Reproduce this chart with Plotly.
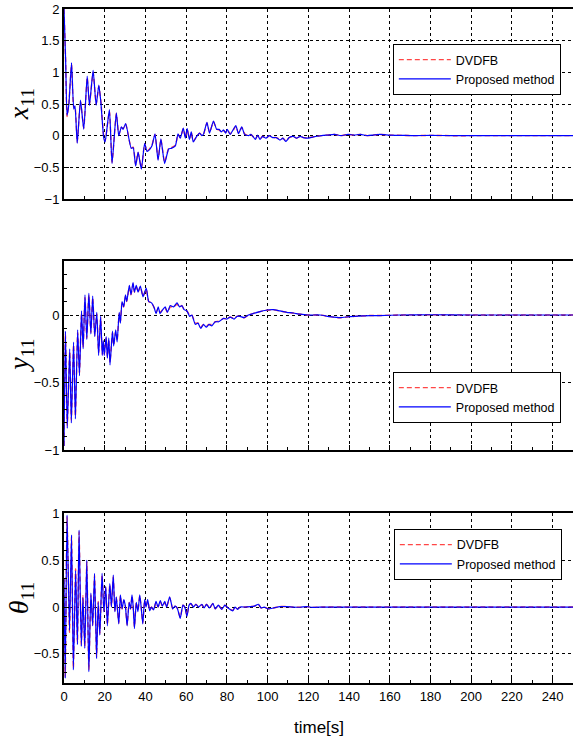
import plotly.graph_objects as go

# ---- x11 response -------------------------------------------------------
t_x = [
    0.0, 0.8, 1.5, 2.4, 3.7, 4.8, 5.4, 6.5, 8.1, 9.7,
    11.4, 12.5, 14.3, 15.8, 17.1, 18.1, 19.5, 20.2, 22.3, 23.6,
    25.7, 26.9, 28.2, 29.0, 30.3, 33.0, 34.0, 35.2, 36.4, 38.0,
    39.6, 40.8, 42.0, 43.2, 44.7, 46.2, 47.6, 49.4, 51.4, 52.7,
    54.7, 56.0, 57.1, 58.6, 59.6, 60.5, 61.6, 62.5, 63.5, 65.0,
    66.6, 67.7, 68.6, 70.2, 71.5, 73.4, 75.0, 76.2, 77.3, 78.4,
    79.4, 80.2, 81.6, 83.2, 84.4, 85.7, 87.3, 88.7, 90.6, 91.8,
    93.0, 94.0, 95.1, 96.3, 97.5, 99.2, 100.8, 102.5, 104.3, 106.1,
    107.5, 109.0, 110.6, 112.6, 114.2, 116.0, 117.5, 120.0, 122.5, 126.5,
    129.7, 133.0, 136.0, 139.5, 142.5, 145.6, 149.0, 152.0, 155.0, 160.0,
    166.0, 172.0, 180.0, 190.0, 200.0, 215.0, 230.0, 250.0,
]
x_proposed = [
    2.0, 1.2, 0.32, 0.5, 1.15, 0.42, 0.47, -0.12, 0.56, 0.1,
    0.94, 0.48, 1.03, 0.48, 0.8, 0.53, -0.03, -0.1, 0.41, -0.44,
    0.36, 0.0, 0.14, 0.1, 0.19, -0.2, -0.19, -0.48, -0.26, -0.53,
    -0.12, -0.25, -0.22, -0.16, 0.03, -0.39, -0.05, -0.44, -0.21, -0.2,
    -0.16, 0.03, -0.04, 0.12, -0.04, 0.11, -0.06, 0.06, -0.1, -0.02,
    0.04, 0.0, 0.03, 0.21, 0.04, 0.23, 0.1, 0.1, 0.06, 0.09,
    0.04, 0.1, 0.02, 0.1, 0.16, 0.03, 0.14, 0.02, 0.0, 0.02,
    -0.02, -0.06, 0.01, -0.06, -0.01, -0.04, 0.0, -0.03, -0.03, -0.07,
    -0.04, -0.09, -0.03, -0.01, -0.04, -0.01, -0.03, -0.04, -0.02, 0.0,
    0.01, 0.02, 0.0, 0.02, 0.01, 0.02, 0.0, 0.01, 0.02, 0.01,
    0.005, 0.0, 0.005, 0.0, 0.0, 0.0, 0.0, 0.0,
]
x_dvdfb = [
    2.0, 1.18, 0.3, 0.52, 1.12, 0.44, 0.46, -0.1, 0.54, 0.12,
    0.92, 0.5, 1.0, 0.5, 0.78, 0.55, -0.01, -0.08, 0.39, -0.42,
    0.35, 0.02, 0.13, 0.11, 0.18, -0.19, -0.18, -0.46, -0.27, -0.51,
    -0.13, -0.24, -0.21, -0.15, 0.02, -0.37, -0.06, -0.42, -0.2, -0.19,
    -0.15, 0.02, -0.03, 0.11, -0.03, 0.1, -0.05, 0.05, -0.09, -0.02,
    0.04, 0.01, 0.03, 0.2, 0.05, 0.22, 0.1, 0.09, 0.06, 0.08,
    0.05, 0.09, 0.03, 0.09, 0.15, 0.04, 0.13, 0.03, 0.0, 0.02,
    -0.02, -0.05, 0.0, -0.05, -0.01, -0.04, 0.0, -0.03, -0.03, -0.06,
    -0.04, -0.08, -0.03, -0.01, -0.04, -0.01, -0.03, -0.03, -0.02, 0.0,
    0.01, 0.02, 0.0, 0.02, 0.01, 0.02, 0.0, 0.01, 0.02, 0.01,
    0.005, 0.0, 0.005, 0.0, 0.0, 0.0, 0.0, 0.0,
]

# ---- y11 response -------------------------------------------------------
t_y = [
    0.0, 0.7, 1.6, 2.8, 3.6, 4.7, 5.6, 6.7, 7.6, 8.6,
    9.4, 10.3, 11.2, 12.2, 13.2, 14.1, 15.1, 16.1, 17.0, 18.0,
    18.8, 19.3, 19.8, 20.7, 21.3, 22.0, 22.6, 23.8, 24.4, 25.4,
    26.1, 27.1, 27.7, 28.5, 29.3, 30.2, 30.8, 32.1, 32.9, 33.9,
    34.6, 35.5, 36.4, 37.5, 38.8, 40.4, 41.6, 43.0, 44.4, 45.2,
    46.3, 47.2, 48.5, 49.7, 50.8, 52.2, 53.8, 55.5, 56.8, 57.9,
    59.0, 60.4, 61.7, 62.8, 64.5, 65.8, 67.2, 68.5, 69.9, 71.2,
    72.6, 74.3, 76.0, 78.4, 80.0, 81.6, 83.5, 85.0, 86.5, 88.5,
    90.6, 93.1, 96.3, 99.6, 102.8, 106.1, 109.4, 112.6, 115.9, 120.0,
    125.7, 130.6, 135.5, 140.4, 145.3, 150.2, 155.0, 165.0, 180.0, 200.0,
    220.0, 250.0,
]
y_proposed = [
    -0.97, -0.12, -0.84, -0.25, -0.8, -0.2, -0.77, -0.11, -0.45, 0.03,
    -0.25, 0.15, -0.18, 0.16, -0.14, 0.14, -0.16, 0.02, -0.3, -0.01,
    -0.3, -0.19, -0.3, -0.16, -0.32, -0.17, -0.37, -0.12, -0.23, -0.11,
    -0.2, 0.02, -0.06, 0.1, 0.06, 0.15, 0.1, 0.22, 0.15, 0.24,
    0.17, 0.22, 0.17, 0.215, 0.135, 0.2, 0.1, 0.09, 0.05, 0.01,
    0.06, 0.01, 0.04, 0.06, 0.02, 0.07, 0.06, 0.09, 0.06, 0.07,
    0.04, 0.03, -0.01, 0.0, -0.07, -0.06, -0.1, -0.07, -0.09, -0.07,
    -0.08, -0.05, -0.05, -0.025, -0.03, -0.015, -0.03, -0.01, -0.01, -0.02,
    0.0, 0.012, 0.025, 0.037, 0.04, 0.03, 0.02, 0.015, 0.006, 0.0,
    0.0, -0.012, -0.02, -0.012, -0.008, -0.004, -0.004, 0.0, 0.002, 0.0,
    0.0, 0.0,
]
y_dvdfb = [
    -0.97, -0.14, -0.82, -0.27, -0.78, -0.22, -0.75, -0.13, -0.43, 0.01,
    -0.24, 0.13, -0.17, 0.15, -0.13, 0.13, -0.15, 0.01, -0.28, -0.02,
    -0.29, -0.2, -0.29, -0.17, -0.31, -0.18, -0.35, -0.13, -0.22, -0.12,
    -0.19, 0.01, -0.05, 0.09, 0.06, 0.14, 0.1, 0.21, 0.15, 0.23,
    0.17, 0.21, 0.17, 0.21, 0.14, 0.19, 0.1, 0.09, 0.05, 0.02,
    0.05, 0.02, 0.04, 0.05, 0.02, 0.06, 0.06, 0.08, 0.06, 0.07,
    0.04, 0.03, 0.0, 0.0, -0.06, -0.06, -0.09, -0.07, -0.08, -0.07,
    -0.07, -0.05, -0.045, -0.025, -0.03, -0.015, -0.025, -0.01, -0.01, -0.02,
    0.0, 0.012, 0.025, 0.035, 0.038, 0.03, 0.02, 0.015, 0.006, 0.0,
    0.0, -0.012, -0.02, -0.012, -0.008, -0.004, -0.004, 0.0, 0.002, 0.0,
    0.0, 0.0,
]

# ---- theta11 response ---------------------------------------------------
t_th = [
    0.0, 0.6, 1.5, 2.7, 3.7, 4.6, 5.7, 6.6, 7.4, 8.5,
    9.3, 10.2, 11.2, 12.2, 13.2, 14.1, 15.0, 16.0, 16.8, 17.6,
    18.7, 19.6, 20.5, 21.3, 22.5, 23.3, 24.2, 25.0, 25.7, 26.9,
    27.7, 28.5, 29.4, 30.2, 31.0, 32.0, 32.7, 33.4, 34.0, 34.6,
    35.5, 36.3, 37.2, 37.9, 38.7, 39.6, 40.3, 41.1, 42.1, 43.0,
    44.0, 45.2, 46.2, 47.3, 48.3, 49.5, 50.4, 51.9, 53.4, 54.5,
    55.6, 57.1, 58.4, 59.3, 60.4, 61.4, 62.3, 63.6, 64.8, 66.1,
    67.7, 68.8, 70.0, 71.5, 73.1, 74.3, 75.8, 77.5, 79.0, 80.6,
    82.9, 84.0, 85.2, 86.5, 89.0, 91.6, 93.5, 95.5, 96.8, 98.3,
    100.4, 102.8, 106.1, 109.4, 112.6, 116.0, 119.2, 122.0, 127.0, 135.0,
    150.0, 250.0,
]
th_proposed = [
    0.3, -0.76, 0.98, -0.25, 0.77, -0.67, 0.39, -0.4, 0.82, -0.42,
    0.1, -0.44, 0.5, -0.69, 0.15, -0.2, 0.36, -0.55, 0.05, -0.3,
    0.36, -0.05, 0.22, -0.2, 0.25, 0.0, 0.34, -0.05, 0.11, -0.18,
    0.13, -0.02, 0.08, 0.0, -0.2, 0.05, -0.02, 0.13, 0.0, -0.23,
    0.05, -0.05, 0.13, 0.0, -0.18, 0.08, 0.0, 0.08, -0.04, 0.0,
    -0.03, 0.06, 0.0, 0.07, 0.01, 0.06, 0.0, 0.11, -0.02, 0.01,
    -0.01, -0.12, 0.02, 0.0, -0.1, 0.02, 0.04, 0.0, 0.03, 0.0,
    0.03, -0.01, 0.03, -0.01, 0.04, -0.02, 0.02, -0.025, 0.02, -0.01,
    -0.04, 0.0, -0.025, 0.0, 0.0, 0.005, 0.01, 0.03, -0.01, 0.0,
    -0.02, -0.01, 0.005, 0.005, 0.0, -0.002, 0.005, -0.003, 0.0, 0.0,
    0.0, 0.0,
]
th_dvdfb = [
    0.3, -0.74, 0.96, -0.27, 0.75, -0.65, 0.41, -0.38, 0.8, -0.4,
    0.12, -0.42, 0.48, -0.67, 0.13, -0.19, 0.34, -0.53, 0.06, -0.28,
    0.34, -0.04, 0.21, -0.19, 0.24, 0.01, 0.32, -0.04, 0.1, -0.17,
    0.12, -0.02, 0.07, 0.0, -0.19, 0.05, -0.02, 0.12, 0.0, -0.21,
    0.05, -0.04, 0.12, 0.0, -0.17, 0.07, 0.0, 0.07, -0.03, 0.0,
    -0.03, 0.05, 0.0, 0.06, 0.01, 0.05, 0.0, 0.1, -0.02, 0.01,
    -0.01, -0.11, 0.02, 0.0, -0.09, 0.02, 0.035, 0.0, 0.03, 0.0,
    0.025, -0.01, 0.03, -0.01, 0.035, -0.02, 0.02, -0.02, 0.02, -0.01,
    -0.035, 0.0, -0.02, 0.0, 0.0, 0.005, 0.01, 0.025, -0.01, 0.0,
    -0.02, -0.01, 0.005, 0.005, 0.0, -0.002, 0.005, -0.003, 0.0, 0.0,
    0.0, 0.0,
]

# ---- axis ticks ---------------------------------------------------------
time_ticks = [0, 20, 40, 60, 80, 100, 120, 140, 160, 180, 200, 220, 240]
x11_ticks = [-1, -0.5, 0, 0.5, 1, 1.5, 2]
x11_labels = ["\u22121", "\u22120.5", "0", "0.5", "1", "1.5", "2"]
y11_ticks = [-1, -0.5, 0]
y11_labels = ["\u22121", "\u22120.5", "0"]
th11_ticks = [-0.5, 0, 0.5, 1]
th11_labels = ["\u22120.5", "0", "0.5", "1"]

series_names = ["DVDFB", "Proposed method"]

RED = "rgb(255,70,70)"
BLUE = "rgb(0,0,255)"
SANS = "Liberation Sans, Arial, sans-serif"
TICK_FONT = dict(family=SANS, size=13, color="black")

fig = go.Figure()

panels = [
    (t_x, x_dvdfb, x_proposed, "x", "y", "legend"),
    (t_y, y_dvdfb, y_proposed, "x2", "y2", "legend2"),
    (t_th, th_dvdfb, th_proposed, "x3", "y3", "legend3"),
]
for t, ref_vals, prop_vals, xa, ya, lg in panels:
    fig.add_trace(go.Scatter(
        x=t, y=ref_vals, mode="lines", name=series_names[0],
        line=dict(color=RED, width=1.4, dash="5px,3px", shape="spline", smoothing=0.5),
        xaxis=xa, yaxis=ya, legend=lg))
    fig.add_trace(go.Scatter(
        x=t, y=prop_vals, mode="lines", name=series_names[1],
        line=dict(color=BLUE, width=1.2, shape="spline", smoothing=0.5),
        xaxis=xa, yaxis=ya, legend=lg))

common = dict(
    showgrid=True, gridcolor="black", gridwidth=1, griddash="3px,3px",
    zeroline=False, showline=True, linecolor="black", linewidth=2, mirror=True,
    ticks="inside", ticklen=5, tickwidth=1, tickcolor="black",
    tickfont=TICK_FONT, automargin=False,
)

def xaxis_cfg(anchor, labels):
    return dict(common, anchor=anchor, domain=[0, 1], range=[0, 250],
                tickvals=time_ticks, ticktext=[str(v) for v in time_ticks],
                showticklabels=labels,
                minor=dict(dtick=10, tick0=0, ticks="inside", ticklen=3,
                           tickcolor="black", showgrid=False))

def yaxis_cfg(anchor, dom, rng, vals, text, minor_step):
    cfg = dict(common, anchor=anchor, domain=dom, range=rng,
               tickvals=vals, ticktext=text)
    if minor_step:
        cfg["minor"] = dict(dtick=minor_step, tick0=0, ticks="inside", ticklen=3,
                            tickcolor="black", showgrid=False)
    return cfg

legend_common = dict(bgcolor="white", bordercolor="black", borderwidth=1,
                     font=dict(family=SANS, size=12.5, color="black"),
                     xanchor="left", yanchor="top", itemwidth=52,
                     tracegroupgap=0)

fig.update_layout(
    width=573, height=742,
    margin=dict(l=64, r=0, t=9, b=59),
    paper_bgcolor="white", plot_bgcolor="white",
    xaxis=xaxis_cfg("y", False),
    xaxis2=xaxis_cfg("y2", False),
    xaxis3=xaxis_cfg("y3", True),
    yaxis=yaxis_cfg("x", [0.7181, 1.0], [-1, 2], x11_ticks, x11_labels, None),
    yaxis2=yaxis_cfg("x2", [0.3457, 0.6261], [-1, 0.4], y11_ticks, y11_labels, 0.1),
    yaxis3=yaxis_cfg("x3", [0.0, 0.2518], [-0.81, 1], th11_ticks, th11_labels, 0.1),
    legend=dict(legend_common, x=0.646, y=0.948),
    legend2=dict(legend_common, x=0.646, y=0.4614),
    legend3=dict(legend_common, x=0.648, y=0.2285),
    showlegend=True,
)

title_font = dict(family="Liberation Serif, DejaVu Serif, serif", size=28, color="black")
for yref, label in [("y domain", "<i>x</i><sub>11</sub>"),
                    ("y2 domain", "<i>y</i><sub>11</sub>"),
                    ("y3 domain", "<i>θ</i><sub>11</sub>")]:
    fig.add_annotation(text=label, xref="paper", yref=yref, x=-0.086, y=0.5,
                       xanchor="center", yanchor="middle", textangle=-90,
                       showarrow=False, font=title_font)

fig.add_annotation(text="time[s]", xref="paper", yref="paper", x=0.5, y=-0.0653,
                   xanchor="center", yanchor="middle", showarrow=False,
                   font=dict(family=SANS, size=17, color="black"))

fig.write_html("out.html")
